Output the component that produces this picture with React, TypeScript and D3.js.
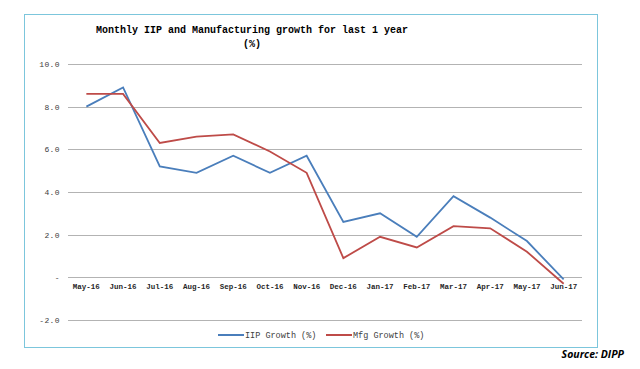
import * as d3 from 'd3';

// Month categories on the x axis
const months = [
  'May-16', 'Jun-16', 'Jul-16', 'Aug-16', 'Sep-16', 'Oct-16', 'Nov-16',
  'Dec-16', 'Jan-17', 'Feb-17', 'Mar-17', 'Apr-17', 'May-17', 'Jun-17',
];

// IIP growth (%) per month
const iipGrowth = [8.0, 8.9, 5.2, 4.9, 5.7, 4.9, 5.7, 2.6, 3.0, 1.9, 3.8, 2.8, 1.7, -0.1];

// Manufacturing growth (%) per month
const mfgGrowth = [8.6, 8.6, 6.3, 6.6, 6.7, 5.9, 4.9, 0.9, 1.9, 1.4, 2.4, 2.3, 1.2, -0.3];

// Y tick values and labels
const yTicks = [-2, 0, 2, 4, 6, 8, 10];
const yTickLabels = ['-2.0', '-', '2.0', '4.0', '6.0', '8.0', '10.0'];

const seriesNames = ['IIP Growth (%)', 'Mfg Growth (%)'];
const seriesColors = ['#4a7ebb', '#be4b48'];

const width = 640, height = 369;
const plot = { left: 68, right: 582, top: 64, bottom: 320 };
const mono = '"Liberation Mono", "DejaVu Sans Mono", monospace';

const App = () => {
  // Scales
  const x = d3.scalePoint<string>()
    .domain(months)
    .range([plot.left, plot.right])
    .padding(0.5);
  const y = d3.scaleLinear()
    .domain([-2, 10])
    .range([plot.bottom, plot.top]);

  const line = d3.line<number>()
    .x((_, i) => x(months[i]) as number)
    .y(d => y(d));

  const series = [iipGrowth, mfgGrowth];

  return (
    <svg width={width} height={height} style={{ position: 'absolute', left: 0, top: 0, background: '#fff' }}>
      {/* chart frame */}
      <rect x={24.5} y={14.5} width={573} height={333} fill="#fff" stroke="#7cc6dc" strokeWidth={1} />

      {/* title */}
      <text x={252} y={33} textAnchor="middle" fontFamily={mono} fontWeight="bold" fontSize={10} fill="#000">
        Monthly IIP and Manufacturing growth for last 1 year
      </text>
      <text x={252} y={47} textAnchor="middle" fontFamily={mono} fontWeight="bold" fontSize={10} fill="#000">
        (%)
      </text>

      {/* gridlines and y labels */}
      {yTicks.map((t, i) => (
        <g key={t}>
          <line x1={plot.left} x2={plot.right} y1={Math.round(y(t)) + 0.5} y2={Math.round(y(t)) + 0.5}
            stroke="#b3b3b3" strokeWidth={1.2} />
          <text x={60} y={y(t) + 3} textAnchor="end" fontFamily={mono} fontSize={8} letterSpacing={0.4}
            fill="#404040">
            {yTickLabels[i]}
          </text>
        </g>
      ))}

      {/* x labels */}
      {months.map(m => (
        <text key={m} x={x(m)} y={289} textAnchor="middle" fontFamily={mono} fontWeight="bold"
          fontSize={7.5} fill="#262626">
          {m}
        </text>
      ))}

      {/* series lines */}
      {series.map((s, i) => (
        <path key={seriesNames[i]} d={line(s) ?? ''} fill="none" stroke={seriesColors[i]} strokeWidth={1.8} />
      ))}

      {/* legend */}
      {seriesNames.map((n, i) => {
        const lx = 218 + i * 108;
        return (
          <g key={n}>
            <line x1={lx} x2={lx + 26} y1={335} y2={335} stroke={seriesColors[i]} strokeWidth={2} />
            <text x={lx + 27} y={338} fontFamily={mono} fontSize={8.5} fill="#404040">{n}</text>
          </g>
        );
      })}

      {/* source note */}
      <text x={624} y={358} textAnchor="end" fontFamily='"Open Sans", "Liberation Sans", sans-serif'
        fontStyle="italic" fontWeight="bold" fontSize={10.5} fill="#000">
        Source: DIPP
      </text>
    </svg>
  );
};

export default App;
